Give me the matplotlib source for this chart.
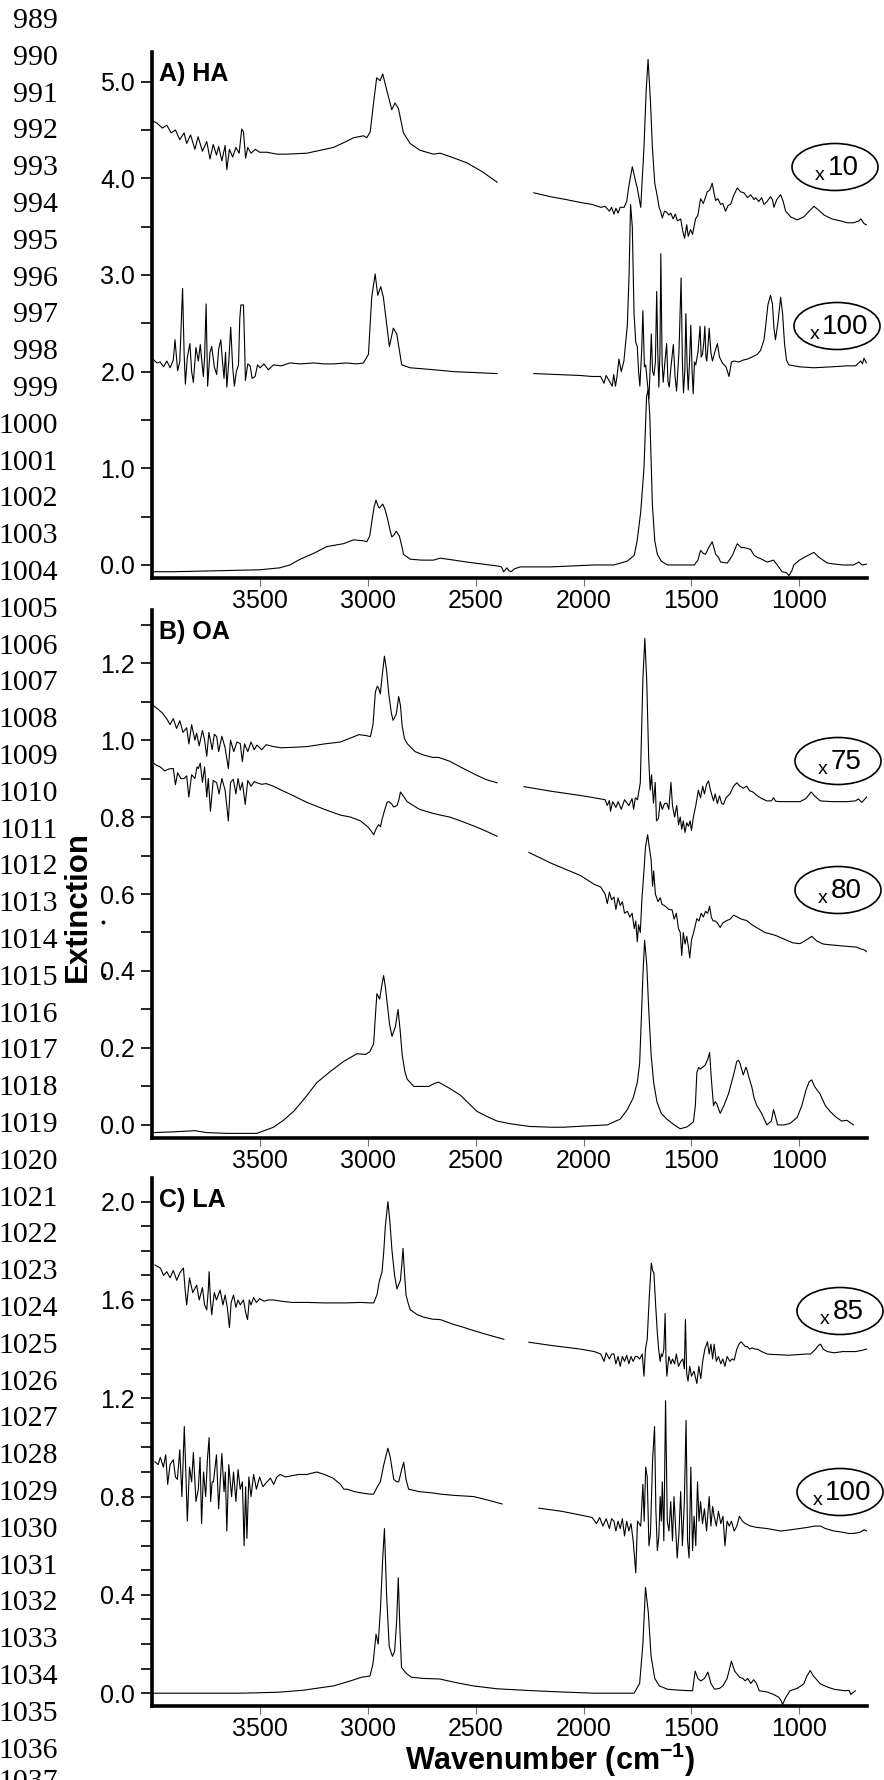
import numpy as np
import matplotlib
matplotlib.use("Agg")
import matplotlib.pyplot as plt
from matplotlib.patches import Ellipse
from matplotlib.lines import Line2D
from matplotlib.ticker import MultipleLocator, FormatStrFormatter

plt.rcParams['font.family'] = ['Liberation Sans', 'DejaVu Sans']
plt.rcParams['mathtext.default'] = 'regular'

# ---------------- data (wavenumber, extinction), None = gap in the spectrum ----------------
# A) HA
ha_x10 = [(4000, 4.60), (3975, 4.57), (3950, 4.52), (3930, 4.55), (3910, 4.47), (3890, 4.50), (3870, 4.40),
          (3850, 4.47), (3838, 4.36), (3820, 4.45), (3800, 4.30), (3785, 4.43), (3765, 4.28), (3745, 4.38),
          (3730, 4.20), (3715, 4.35), (3700, 4.24), (3690, 4.33), (3675, 4.18), (3660, 4.34), (3652, 4.09),
          (3640, 4.30), (3625, 4.22), (3610, 4.32), (3595, 4.26), (3583, 4.51), (3575, 4.48), (3565, 4.21),
          (3555, 4.32), (3540, 4.26), (3520, 4.30), (3500, 4.27), (3467, 4.27), (3420, 4.25), (3374, 4.25),
          (3281, 4.26), (3200, 4.30), (3158, 4.32), (3100, 4.38), (3065, 4.42), (3019, 4.44), (3004, 4.42),
          (2988, 4.48), (2973, 4.77), (2958, 5.04), (2942, 5.01), (2930, 5.08), (2911, 4.91), (2888, 4.71),
          (2873, 4.78), (2857, 4.72), (2834, 4.47), (2803, 4.36), (2757, 4.29), (2695, 4.25), (2664, 4.26),
          (2600, 4.21), (2540, 4.16), (2470, 4.07), (2400, 3.96), None,
          (2230, 3.85), (2153, 3.81), (2080, 3.78), (2014, 3.75), (1960, 3.73), (1920, 3.70), (1900, 3.71),
          (1880, 3.66), (1870, 3.70), (1859, 3.63), (1850, 3.69), (1840, 3.64), (1830, 3.70), (1812, 3.70),
          (1800, 3.76), (1790, 3.92), (1774, 4.12), (1760, 3.98), (1751, 3.90), (1735, 3.70), (1720, 4.32),
          (1710, 4.90), (1701, 5.23), (1690, 4.80), (1681, 4.32), (1670, 3.95), (1658, 3.81), (1650, 3.70),
          (1643, 3.66), (1635, 3.59), (1625, 3.66), (1615, 3.65), (1605, 3.62), (1596, 3.64), (1585, 3.58),
          (1575, 3.63), (1565, 3.56), (1550, 3.58), (1540, 3.45), (1532, 3.38), (1522, 3.52), (1515, 3.40),
          (1504, 3.47), (1495, 3.42), (1481, 3.58), (1470, 3.62), (1458, 3.79), (1445, 3.74), (1427, 3.86),
          (1415, 3.88), (1404, 3.95), (1395, 3.84), (1388, 3.77), (1378, 3.79), (1365, 3.73), (1355, 3.74),
          (1342, 3.66), (1330, 3.72), (1319, 3.73), (1305, 3.82), (1288, 3.90), (1272, 3.86), (1257, 3.85),
          (1240, 3.80), (1226, 3.83), (1210, 3.78), (1203, 3.80), (1188, 3.76), (1175, 3.80), (1164, 3.73),
          (1150, 3.76), (1134, 3.81), (1125, 3.78), (1118, 3.70), (1105, 3.78), (1087, 3.83), (1075, 3.76),
          (1064, 3.66), (1040, 3.60), (1010, 3.57), (980, 3.60), (955, 3.66), (933, 3.71), (910, 3.67),
          (886, 3.62), (850, 3.58), (810, 3.56), (778, 3.54), (750, 3.54), (724, 3.56), (716, 3.58),
          (700, 3.53), (690, 3.52)]

ha_x100 = [(4000, 2.14), (3975, 2.09), (3961, 2.10), (3945, 2.05), (3930, 2.11), (3915, 2.04), (3900, 2.12),
           (3892, 2.33), (3880, 2.01), (3870, 2.10), (3857, 2.86), (3850, 2.20), (3844, 1.87), (3835, 2.15),
           (3823, 2.29), (3815, 2.00), (3807, 1.89), (3795, 2.25), (3784, 2.11), (3775, 2.28), (3761, 1.95),
           (3755, 2.15), (3748, 2.70), (3741, 1.85), (3730, 2.20), (3722, 2.26), (3710, 2.05), (3699, 1.97),
           (3690, 2.23), (3680, 2.33), (3672, 2.10), (3665, 1.93), (3658, 2.20), (3652, 1.84), (3643, 2.10),
           (3634, 2.46), (3625, 2.05), (3617, 1.85), (3608, 2.00), (3598, 2.07), (3592, 2.55), (3587, 2.69),
           (3575, 2.69), (3570, 2.30), (3566, 1.91), (3555, 2.08), (3544, 2.06), (3535, 1.93), (3521, 1.95),
           (3510, 2.07), (3498, 2.04), (3480, 2.08), (3460, 2.02), (3436, 2.07), (3400, 2.06), (3360, 2.09),
           (3312, 2.08), (3250, 2.09), (3200, 2.08), (3158, 2.08), (3100, 2.09), (3050, 2.08), (3019, 2.09),
           (2996, 2.18), (2981, 2.77), (2965, 3.01), (2953, 2.79), (2939, 2.88), (2927, 2.77), (2912, 2.50),
           (2899, 2.26), (2881, 2.45), (2865, 2.39), (2842, 2.07), (2803, 2.04), (2750, 2.03), (2695, 2.02),
           (2600, 2.00), (2500, 1.99), (2400, 1.98), None,
           (2230, 1.98), (2120, 1.97), (2014, 1.96), (1960, 1.95), (1921, 1.95), (1905, 1.88), (1895, 1.96),
           (1880, 1.90), (1867, 1.85), (1860, 1.97), (1852, 1.85), (1845, 1.95), (1836, 2.13), (1825, 2.00),
           (1813, 2.11), (1805, 2.30), (1797, 2.48), (1789, 3.00), (1782, 3.73), (1774, 3.50), (1766, 2.60),
           (1758, 2.30), (1751, 2.26), (1745, 2.00), (1739, 1.85), (1731, 2.20), (1725, 2.63), (1718, 2.05),
           (1712, 2.07), (1705, 1.90), (1697, 1.72), (1692, 2.00), (1686, 2.39), (1680, 2.00), (1674, 1.96),
           (1667, 2.10), (1661, 2.83), (1656, 2.20), (1651, 1.84), (1646, 2.20), (1642, 3.22), (1636, 2.10),
           (1631, 1.89), (1623, 2.10), (1615, 2.29), (1609, 1.90), (1603, 1.84), (1595, 2.05), (1584, 2.28),
           (1576, 1.95), (1569, 1.80), (1558, 2.20), (1548, 2.97), (1542, 2.10), (1537, 1.78), (1531, 2.00),
           (1526, 2.60), (1520, 2.05), (1515, 1.81), (1509, 2.10), (1503, 2.48), (1497, 2.00), (1492, 1.77),
           (1486, 2.10), (1480, 2.07), (1470, 2.20), (1460, 2.47), (1455, 2.15), (1449, 2.18), (1443, 2.30),
           (1438, 2.47), (1433, 2.15), (1429, 2.11), (1424, 2.25), (1418, 2.45), (1410, 2.20), (1403, 2.11),
           (1392, 2.20), (1380, 2.29), (1370, 2.15), (1357, 2.09), (1340, 2.05), (1326, 1.95), (1315, 2.10),
           (1303, 2.11), (1280, 2.10), (1260, 2.12), (1241, 2.13), (1220, 2.15), (1195, 2.18), (1180, 2.22),
           (1164, 2.33), (1155, 2.50), (1146, 2.69), (1134, 2.79), (1125, 2.70), (1118, 2.45), (1111, 2.33),
           (1100, 2.50), (1087, 2.77), (1078, 2.60), (1069, 2.29), (1060, 2.12), (1049, 2.07), (1000, 2.05),
           (933, 2.04), (850, 2.05), (778, 2.06), (740, 2.06), (716, 2.11), (708, 2.08), (701, 2.14), (690, 2.09)]

ha_pure = [(4000, -0.07), (3900, -0.07), (3800, -0.065), (3700, -0.06), (3600, -0.055), (3500, -0.05),
           (3408, -0.03), (3360, 0.0), (3312, 0.06), (3250, 0.12), (3189, 0.19), (3112, 0.22), (3065, 0.26),
           (3019, 0.25), (3004, 0.24), (2990, 0.30), (2981, 0.44), (2970, 0.60), (2961, 0.67), (2950, 0.60),
           (2945, 0.59), (2930, 0.63), (2920, 0.58), (2908, 0.48), (2895, 0.35), (2888, 0.29), (2878, 0.31),
           (2868, 0.35), (2853, 0.30), (2840, 0.18), (2834, 0.11), (2803, 0.06), (2750, 0.05), (2695, 0.05),
           (2664, 0.07), (2600, 0.05), (2540, 0.03), (2470, 0.01), (2400, -0.01), (2380, -0.02), (2370, -0.07),
           (2362, -0.05), (2355, -0.03), (2345, -0.06), (2336, -0.07), (2320, -0.04), (2293, -0.02),
           (2200, -0.02), (2153, -0.02), (2050, -0.01), (1950, 0.0), (1859, 0.0), (1797, 0.04), (1765, 0.10),
           (1751, 0.26), (1735, 0.55), (1720, 1.00), (1708, 1.74), (1701, 1.81), (1693, 1.55), (1681, 0.62),
           (1670, 0.25), (1658, 0.11), (1640, 0.04), (1612, 0.0), (1550, 0.0), (1487, 0.0), (1470, 0.05),
           (1458, 0.15), (1445, 0.12), (1435, 0.11), (1420, 0.18), (1404, 0.24), (1395, 0.17), (1388, 0.11),
           (1375, 0.08), (1365, 0.03), (1334, 0.02), (1310, 0.10), (1288, 0.22), (1270, 0.18), (1257, 0.18),
           (1240, 0.17), (1226, 0.16), (1210, 0.10), (1195, 0.08), (1175, 0.06), (1149, 0.03), (1120, 0.05),
           (1103, 0.0), (1090, -0.04), (1080, -0.07), (1060, -0.08), (1049, -0.11), (1035, -0.06),
           (1026, 0.0), (1000, 0.05), (960, 0.10), (933, 0.13), (910, 0.08), (871, 0.02), (840, 0.01),
           (800, 0.0), (778, 0.0), (750, 0.0), (724, 0.03), (710, 0.0), (685, 0.01)]

# B) OA
oa_x75 = [(4000, 1.093), (3970, 1.08), (3950, 1.07), (3930, 1.055), (3915, 1.04), (3900, 1.056), (3885, 1.03),
          (3870, 1.05), (3855, 1.02), (3838, 1.032), (3828, 0.99), (3815, 1.04), (3800, 1.00), (3792, 1.018),
          (3780, 0.985), (3765, 1.025), (3755, 1.00), (3745, 0.958), (3735, 1.02), (3720, 0.975),
          (3710, 1.015), (3699, 1.009), (3690, 0.97), (3675, 1.01), (3660, 0.98), (3645, 0.926), (3635, 1.00),
          (3620, 0.97), (3605, 0.995), (3590, 0.991), (3580, 0.944), (3570, 0.99), (3555, 0.97),
          (3540, 0.995), (3525, 0.975), (3513, 0.987), (3490, 0.975), (3470, 0.988), (3436, 0.983),
          (3400, 0.98), (3350, 0.981), (3281, 0.983), (3200, 0.99), (3126, 0.995), (3080, 1.005),
          (3041, 1.014), (3010, 1.012), (2987, 1.009), (2975, 1.04), (2964, 1.125), (2955, 1.14),
          (2949, 1.135), (2941, 1.12), (2932, 1.17), (2922, 1.218), (2912, 1.18), (2902, 1.12), (2890, 1.07),
          (2882, 1.051), (2867, 1.068), (2856, 1.113), (2848, 1.09), (2840, 1.037), (2830, 1.005),
          (2817, 0.991), (2780, 0.97), (2740, 0.961), (2700, 0.955), (2671, 0.955), (2620, 0.945),
          (2570, 0.93), (2500, 0.91), (2450, 0.897), (2400, 0.889), None,
          (2276, 0.879), (2150, 0.867), (2014, 0.856), (1950, 0.85), (1900, 0.845), (1890, 0.83),
          (1880, 0.843), (1875, 0.815), (1865, 0.84), (1850, 0.825), (1840, 0.84), (1825, 0.82),
          (1810, 0.845), (1790, 0.83), (1775, 0.848), (1768, 0.82), (1760, 0.85), (1750, 0.845),
          (1737, 0.889), (1725, 1.158), (1716, 1.264), (1707, 1.15), (1698, 0.95), (1691, 0.87), (1685, 0.91),
          (1676, 0.836), (1668, 0.89), (1662, 0.79), (1653, 0.796), (1645, 0.84), (1635, 0.82), (1625, 0.835),
          (1614, 0.836), (1605, 0.82), (1595, 0.89), (1588, 0.83), (1578, 0.80), (1568, 0.83), (1560, 0.78),
          (1552, 0.80), (1545, 0.768), (1538, 0.79), (1530, 0.76), (1522, 0.785), (1514, 0.776),
          (1506, 0.79), (1500, 0.765), (1491, 0.80), (1480, 0.83), (1468, 0.87), (1458, 0.85), (1448, 0.88),
          (1440, 0.86), (1430, 0.885), (1421, 0.894), (1412, 0.87), (1398, 0.842), (1390, 0.86),
          (1380, 0.835), (1370, 0.855), (1360, 0.835), (1352, 0.833), (1340, 0.85), (1321, 0.861),
          (1305, 0.88), (1290, 0.889), (1275, 0.88), (1260, 0.875), (1244, 0.88), (1230, 0.868),
          (1215, 0.865), (1197, 0.856), (1175, 0.848), (1151, 0.842), (1130, 0.842), (1120, 0.85),
          (1110, 0.841), (1089, 0.84), (1050, 0.84), (997, 0.84), (970, 0.848), (946, 0.865), (930, 0.855),
          (904, 0.842), (850, 0.84), (781, 0.84), (740, 0.842), (727, 0.847), (711, 0.838), (700, 0.845),
          (688, 0.852)]

oa_x80 = [(4000, 0.944), (3980, 0.935), (3960, 0.93), (3940, 0.92), (3920, 0.925), (3900, 0.926),
          (3890, 0.884), (3880, 0.915), (3865, 0.90), (3850, 0.90), (3838, 0.907), (3828, 0.852),
          (3815, 0.91), (3800, 0.90), (3790, 0.93), (3784, 0.926), (3775, 0.94), (3765, 0.89), (3755, 0.93),
          (3745, 0.852), (3738, 0.90), (3728, 0.815), (3715, 0.895), (3699, 0.889), (3688, 0.86), (3675, 0.9),
          (3660, 0.87), (3645, 0.79), (3635, 0.89), (3622, 0.898), (3610, 0.86), (3600, 0.90), (3590, 0.87),
          (3580, 0.89), (3567, 0.833), (3555, 0.895), (3540, 0.88), (3525, 0.892), (3513, 0.889),
          (3490, 0.885), (3470, 0.887), (3436, 0.88), (3400, 0.87), (3350, 0.857), (3281, 0.838),
          (3200, 0.82), (3126, 0.805), (3080, 0.80), (3033, 0.79), (3000, 0.775), (2985, 0.765),
          (2972, 0.754), (2960, 0.77), (2949, 0.78), (2940, 0.775), (2933, 0.794), (2920, 0.82),
          (2910, 0.838), (2902, 0.84), (2890, 0.835), (2879, 0.826), (2864, 0.83), (2855, 0.845),
          (2848, 0.865), (2835, 0.855), (2817, 0.84), (2760, 0.82), (2700, 0.81), (2663, 0.805), (2620, 0.80),
          (2570, 0.79), (2500, 0.775), (2450, 0.763), (2400, 0.75), None,
          (2253, 0.708), (2150, 0.68), (2014, 0.648), (1950, 0.625), (1920, 0.618), (1900, 0.60),
          (1890, 0.575), (1880, 0.605), (1870, 0.585), (1859, 0.592), (1850, 0.56), (1840, 0.59),
          (1830, 0.57), (1820, 0.58), (1810, 0.55), (1797, 0.555), (1785, 0.54), (1775, 0.55), (1765, 0.51),
          (1758, 0.53), (1751, 0.476), (1745, 0.52), (1737, 0.50), (1729, 0.592), (1720, 0.66),
          (1713, 0.722), (1703, 0.754), (1695, 0.72), (1687, 0.69), (1680, 0.62), (1675, 0.66), (1667, 0.60),
          (1655, 0.58), (1645, 0.59), (1636, 0.573), (1625, 0.57), (1615, 0.565), (1605, 0.56),
          (1590, 0.559), (1580, 0.535), (1570, 0.55), (1560, 0.51), (1552, 0.50), (1545, 0.44), (1538, 0.50),
          (1530, 0.47), (1522, 0.49), (1514, 0.462), (1508, 0.434), (1500, 0.48), (1490, 0.50),
          (1475, 0.536), (1465, 0.53), (1455, 0.55), (1445, 0.54), (1435, 0.555), (1425, 0.55),
          (1416, 0.568), (1408, 0.54), (1400, 0.53), (1390, 0.53), (1380, 0.525), (1367, 0.513),
          (1355, 0.525), (1340, 0.53), (1320, 0.535), (1305, 0.545), (1290, 0.541), (1270, 0.535),
          (1244, 0.531), (1220, 0.52), (1190, 0.51), (1160, 0.50), (1140, 0.497), (1120, 0.494), (1100, 0.49),
          (1060, 0.48), (1030, 0.473), (997, 0.471), (970, 0.48), (943, 0.49), (920, 0.478), (890, 0.47),
          (858, 0.468), (800, 0.465), (760, 0.463), (734, 0.462), (720, 0.458), (700, 0.455), (688, 0.45)]

oa_pure = [(3993, -0.02), (3900, -0.018), (3800, -0.015), (3745, -0.02), (3650, -0.022), (3513, -0.022),
           (3436, -0.006), (3390, 0.012), (3343, 0.035), (3290, 0.07), (3235, 0.11), (3170, 0.14),
           (3111, 0.165), (3049, 0.185), (3010, 0.183), (2990, 0.19), (2972, 0.211), (2962, 0.30),
           (2957, 0.341), (2944, 0.327), (2935, 0.36), (2926, 0.388), (2918, 0.36), (2910, 0.32),
           (2898, 0.26), (2887, 0.23), (2871, 0.256), (2859, 0.30), (2850, 0.25), (2840, 0.183),
           (2828, 0.14), (2817, 0.119), (2786, 0.10), (2740, 0.10), (2717, 0.10), (2690, 0.108),
           (2671, 0.111), (2620, 0.095), (2570, 0.077), (2530, 0.055), (2493, 0.035), (2440, 0.02),
           (2400, 0.01), (2339, 0.003), (2250, -0.004), (2150, -0.006), (2091, -0.006), (2000, -0.003),
           (1890, 0.0), (1830, 0.015), (1797, 0.04), (1770, 0.07), (1751, 0.11), (1740, 0.16), (1732, 0.28),
           (1724, 0.40), (1717, 0.48), (1707, 0.416), (1698, 0.30), (1687, 0.183), (1675, 0.11), (1660, 0.06),
           (1640, 0.03), (1614, 0.015), (1580, 0.0), (1552, -0.01), (1520, -0.005), (1491, 0.008),
           (1482, 0.05), (1475, 0.136), (1467, 0.15), (1460, 0.145), (1448, 0.15), (1437, 0.155),
           (1425, 0.17), (1416, 0.188), (1408, 0.12), (1398, 0.05), (1390, 0.06), (1383, 0.055),
           (1367, 0.03), (1350, 0.05), (1329, 0.08), (1305, 0.13), (1290, 0.165), (1282, 0.168),
           (1275, 0.16), (1260, 0.13), (1248, 0.15), (1244, 0.145), (1232, 0.12), (1221, 0.10), (1210, 0.07),
           (1197, 0.05), (1175, 0.03), (1151, 0.0), (1130, 0.01), (1120, 0.04), (1110, 0.02), (1101, 0.0),
           (1070, 0.0), (1043, 0.004), (1010, 0.02), (989, 0.05), (970, 0.09), (955, 0.112), (943, 0.117),
           (930, 0.10), (904, 0.08), (880, 0.05), (858, 0.035), (830, 0.02), (804, 0.01), (780, 0.012),
           (750, 0.0)]

# C) LA
la_x85 = [(3985, 1.742), (3960, 1.73), (3945, 1.70), (3930, 1.715), (3915, 1.69), (3900, 1.72), (3884, 1.68),
          (3870, 1.71), (3853, 1.73), (3845, 1.64), (3838, 1.58), (3825, 1.69), (3810, 1.63), (3792, 1.66),
          (3780, 1.60), (3765, 1.65), (3755, 1.58), (3745, 1.56), (3738, 1.64), (3734, 1.715), (3728, 1.60),
          (3722, 1.54), (3710, 1.63), (3700, 1.60), (3683, 1.64), (3670, 1.58), (3660, 1.62), (3650, 1.57),
          (3640, 1.488), (3632, 1.59), (3621, 1.62), (3610, 1.57), (3600, 1.60), (3590, 1.58), (3575, 1.60),
          (3565, 1.55), (3556, 1.52), (3548, 1.60), (3540, 1.58), (3528, 1.61), (3515, 1.59), (3500, 1.605),
          (3480, 1.595), (3460, 1.60), (3436, 1.60), (3400, 1.595), (3350, 1.59), (3281, 1.59),
          (3200, 1.588), (3100, 1.588), (3030, 1.59), (2990, 1.588), (2972, 1.588), (2957, 1.62),
          (2945, 1.68), (2933, 1.715), (2925, 1.80), (2918, 1.898), (2906, 2.00), (2897, 1.92), (2887, 1.80),
          (2875, 1.70), (2864, 1.645), (2848, 1.68), (2842, 1.74), (2836, 1.81), (2830, 1.72), (2822, 1.62),
          (2810, 1.58), (2802, 1.56), (2770, 1.54), (2740, 1.53), (2700, 1.522), (2663, 1.52),
          (2600, 1.50), (2560, 1.49), (2508, 1.475), (2450, 1.46), (2369, 1.44), None,
          (2253, 1.428), (2150, 1.415), (2013, 1.40), (1950, 1.39), (1920, 1.38), (1905, 1.35), (1895, 1.385),
          (1880, 1.36), (1870, 1.38), (1859, 1.38), (1850, 1.34), (1840, 1.37), (1830, 1.33), (1820, 1.37),
          (1810, 1.35), (1800, 1.375), (1790, 1.34), (1780, 1.37), (1770, 1.35), (1760, 1.37), (1751, 1.37),
          (1740, 1.36), (1728, 1.38), (1720, 1.29), (1713, 1.40), (1705, 1.44), (1695, 1.62), (1686, 1.75),
          (1680, 1.72), (1674, 1.71), (1666, 1.58), (1658, 1.465), (1652, 1.40), (1645, 1.35), (1640, 1.38),
          (1635, 1.37), (1628, 1.40), (1622, 1.545), (1618, 1.36), (1614, 1.29), (1605, 1.37), (1595, 1.34),
          (1588, 1.36), (1578, 1.34), (1570, 1.38), (1560, 1.33), (1549, 1.35), (1540, 1.36), (1533, 1.32),
          (1528, 1.52), (1522, 1.30), (1516, 1.27), (1508, 1.33), (1500, 1.29), (1488, 1.31), (1475, 1.26),
          (1466, 1.33), (1457, 1.28), (1448, 1.35), (1438, 1.40), (1426, 1.43), (1418, 1.38), (1410, 1.42),
          (1402, 1.36), (1395, 1.42), (1385, 1.35), (1375, 1.37), (1364, 1.34), (1355, 1.36), (1345, 1.33),
          (1335, 1.37), (1322, 1.35), (1312, 1.36), (1302, 1.355), (1290, 1.40), (1280, 1.42), (1271, 1.43),
          (1260, 1.42), (1250, 1.41), (1241, 1.41), (1230, 1.40), (1220, 1.405), (1205, 1.40), (1195, 1.40),
          (1175, 1.39), (1149, 1.38), (1120, 1.378), (1087, 1.377), (1050, 1.375), (1000, 1.378),
          (970, 1.38), (948, 1.38), (925, 1.40), (912, 1.415), (902, 1.42), (890, 1.40), (871, 1.39),
          (840, 1.385), (800, 1.39), (779, 1.39), (740, 1.39), (710, 1.395), (689, 1.40)]

la_x100 = [(3985, 0.942), (3970, 0.93), (3960, 0.96), (3946, 0.92), (3935, 0.97), (3926, 0.85), (3915, 0.93),
           (3900, 0.95), (3890, 0.88), (3881, 0.87), (3870, 0.99), (3860, 0.80), (3849, 1.085), (3842, 0.90),
           (3835, 0.70), (3825, 0.92), (3815, 0.86), (3807, 0.98), (3795, 0.78), (3784, 0.83), (3776, 0.96),
           (3769, 0.69), (3760, 0.90), (3750, 0.80), (3742, 0.95), (3734, 1.04), (3727, 0.78), (3720, 0.86),
           (3714, 0.86), (3700, 0.97), (3690, 0.75), (3675, 0.975), (3665, 0.82), (3659, 0.90), (3652, 0.66),
           (3643, 0.93), (3630, 0.80), (3621, 0.90), (3610, 0.78), (3600, 0.91), (3590, 0.83), (3580, 0.86),
           (3572, 0.60), (3565, 0.84), (3559, 0.63), (3550, 0.88), (3540, 0.80), (3528, 0.89), (3515, 0.83),
           (3500, 0.88), (3485, 0.84), (3466, 0.86), (3450, 0.875), (3435, 0.85), (3420, 0.88), (3405, 0.89),
           (3380, 0.88), (3350, 0.885), (3320, 0.89), (3281, 0.89), (3260, 0.895), (3235, 0.90), (3200, 0.89),
           (3160, 0.875), (3126, 0.85), (3110, 0.83), (3095, 0.83), (3060, 0.82), (3030, 0.815),
           (2990, 0.81), (2972, 0.81), (2955, 0.84), (2941, 0.86), (2925, 0.93), (2906, 0.997), (2895, 0.96),
           (2879, 0.87), (2865, 0.86), (2856, 0.86), (2845, 0.90), (2833, 0.94), (2822, 0.87), (2810, 0.83),
           (2760, 0.82), (2700, 0.815), (2663, 0.81), (2600, 0.805), (2508, 0.80), (2440, 0.785),
           (2377, 0.77), None,
           (2207, 0.753), (2100, 0.74), (2014, 0.725), (1960, 0.715), (1940, 0.69), (1925, 0.715),
           (1910, 0.68), (1895, 0.71), (1880, 0.67), (1870, 0.71), (1859, 0.70), (1850, 0.66), (1840, 0.70),
           (1830, 0.67), (1820, 0.71), (1810, 0.64), (1800, 0.70), (1790, 0.66), (1780, 0.69), (1770, 0.62),
           (1758, 0.49), (1750, 0.70), (1735, 0.68), (1725, 0.85), (1719, 0.70), (1712, 0.92), (1705, 0.88),
           (1697, 0.60), (1690, 0.65), (1680, 0.95), (1671, 1.085), (1665, 0.75), (1658, 0.58), (1651, 0.64),
           (1645, 0.80), (1640, 0.70), (1635, 0.86), (1628, 0.62), (1620, 1.19), (1612, 0.70), (1604, 0.66),
           (1596, 0.78), (1588, 0.62), (1581, 0.80), (1575, 0.70), (1566, 0.55), (1558, 0.65), (1550, 0.82),
           (1542, 0.60), (1533, 0.78), (1525, 1.11), (1518, 0.62), (1511, 0.55), (1503, 0.92), (1495, 0.58),
           (1488, 0.72), (1480, 0.60), (1472, 0.86), (1465, 0.70), (1458, 0.78), (1449, 0.69), (1440, 0.75),
           (1430, 0.66), (1418, 0.80), (1410, 0.68), (1402, 0.76), (1395, 0.72), (1385, 0.68), (1375, 0.74),
           (1364, 0.69), (1354, 0.72), (1345, 0.60), (1335, 0.70), (1325, 0.68), (1315, 0.70), (1302, 0.66),
           (1290, 0.68), (1278, 0.72), (1264, 0.70), (1250, 0.69), (1226, 0.68), (1200, 0.675),
           (1150, 0.67), (1087, 0.66), (1040, 0.665), (1000, 0.67), (960, 0.675), (930, 0.68), (902, 0.68),
           (880, 0.67), (840, 0.66), (800, 0.655), (772, 0.65), (747, 0.65), (720, 0.655), (700, 0.665),
           (689, 0.66)]

la_pure = [(4000, 0.0), (3800, 0.0), (3600, 0.0), (3500, 0.002), (3414, 0.004), (3300, 0.012),
           (3157, 0.03), (3080, 0.05), (3028, 0.065), (2989, 0.07), (2975, 0.12), (2961, 0.24), (2951, 0.20),
           (2940, 0.35), (2930, 0.55), (2922, 0.67), (2912, 0.40), (2900, 0.19), (2885, 0.15), (2875, 0.17),
           (2865, 0.30), (2858, 0.47), (2850, 0.25), (2843, 0.105), (2820, 0.08), (2797, 0.065), (2740, 0.06),
           (2667, 0.058), (2600, 0.045), (2513, 0.03), (2400, 0.018), (2254, 0.011), (2100, 0.005),
           (1950, 0.0), (1869, 0.0), (1800, 0.0), (1766, 0.0), (1740, 0.04), (1725, 0.20), (1713, 0.43),
           (1700, 0.33), (1687, 0.15), (1670, 0.06), (1649, 0.03), (1610, 0.016), (1550, 0.012),
           (1495, 0.01), (1483, 0.09), (1470, 0.06), (1457, 0.05), (1440, 0.06), (1424, 0.086), (1410, 0.04),
           (1393, 0.016), (1370, 0.02), (1354, 0.03), (1335, 0.06), (1315, 0.13), (1300, 0.09), (1277, 0.065),
           (1262, 0.06), (1251, 0.05), (1240, 0.06), (1225, 0.04), (1212, 0.055), (1199, 0.04),
           (1186, 0.01), (1150, 0.005), (1120, -0.005), (1096, -0.016), (1085, -0.03), (1078, -0.046),
           (1065, -0.02), (1044, 0.01), (1010, 0.02), (980, 0.038), (965, 0.07), (950, 0.092), (935, 0.07),
           (903, 0.038), (870, 0.025), (839, 0.016), (788, 0.01), (770, 0.012), (762, -0.005), (748, 0.005),
           (741, 0.01)]

# multipliers written in the ellipses
ha_factors = ["10", "100"]
oa_factors = ["75", "80"]
la_factors = ["85", "100"]
wn_ticks = [3500, 3000, 2500, 2000, 1500, 1000]
line_numbers = list(range(989, 1038))

# ---------------- layout (pixel positions in the 884 x 1780 picture) ----------------
W, H = 884, 1780
fig = plt.figure(figsize=(W / 100, H / 100), dpi=100)


def fx(x):
    return x / W


def fy(y):
    return 1 - y / H


def to_xy(trace):
    wn = np.array([np.nan if p is None else p[0] for p in trace], dtype=float)
    val = np.array([np.nan if p is None else p[1] for p in trace], dtype=float)
    return wn, val


panels = [
    # (top, bottom px, ylim, major, minor, title, traces, factors, ellipse centres)
    (51.7, 578.3, (-0.138, 5.31), 1.0, 0.5, "A) HA", [ha_x10, ha_x100, ha_pure], ha_factors, [(835, 167), (837, 326)]),
    (609.6, 1138.0, (-0.034, 1.339), 0.2, 0.1, "B) OA", [oa_x75, oa_x80, oa_pure], oa_factors, [(838, 761), (838, 890)]),
    (1178.3, 1706.0, (-0.052, 2.095), 0.4, 0.1, "C) LA", [la_x85, la_x100, la_pure], la_factors, [(840, 1311), (840, 1492)]),
]

left_px, right_px = 151.7, 867.0

for top, bottom, ylim, major, minor, title, traces, factors, centres in panels:
    ax = fig.add_axes([fx(left_px), fy(bottom), (right_px - left_px) / W, (bottom - top) / H])
    for tr in traces:
        wn, val = to_xy(tr)
        ax.plot(wn, val, color='black', lw=0.8)
    ax.set_xlim(4000, 687)
    ax.set_ylim(*ylim)
    ax.set_xticks(wn_ticks)
    ax.yaxis.set_major_locator(MultipleLocator(major))
    ax.yaxis.set_minor_locator(MultipleLocator(minor))
    ax.yaxis.set_major_formatter(FormatStrFormatter('%.1f'))
    for s in ['top', 'right']:
        ax.spines[s].set_visible(False)
    for s in ['left', 'bottom']:
        ax.spines[s].set_linewidth(2.6)
    ax.tick_params(axis='y', which='both', direction='out', length=8, width=1.2,
                   labelsize=18, pad=4)
    ax.tick_params(axis='x', which='both', direction='out', length=6, width=0.8,
                   color='0.45', labelsize=18, pad=2)

    # panel title
    fig.text(fx(159), fy(top + 29), title, ha='left', va='baseline', fontsize=18, weight='bold')

    # scale-factor ellipses
    for fac, (cx, cy) in zip(factors, centres):
        fig.add_artist(Ellipse((fx(cx), fy(cy)), 86 / W, 47 / H, transform=fig.transFigure,
                               fill=False, ec='black', lw=1.2))
        num_w = 15.4 * len(fac)
        group = 9 + 3 + num_w
        x0 = cx - group / 2 + 2
        fig.text(fx(x0 + 4.5), fy(cy + 13), "x", ha='center', va='baseline', fontsize=14)
        fig.text(fx(x0 + 12), fy(cy + 8), fac, ha='left', va='baseline', fontsize=20)

# y label and x label
fig.text(fx(78), fy(906), "Extinction", rotation=90, ha='center', va='center',
         fontsize=22.5, weight='bold')
fig.text(fx(550), fy(1770), "Wavenumber (cm$^{-1}$)", ha='center', va='baseline',
         fontsize=22, weight='bold')

# two small stray marks next to the y label
for (mx, my) in [(103, 922), (104, 975)]:
    fig.add_artist(Line2D([fx(mx)], [fy(my)], marker='o', ms=1.8, color='black',
                          transform=fig.transFigure))

# manuscript line numbers down the left margin; the last one runs off the page bottom
# as it does in the scanned manuscript
for n in line_numbers:
    yb = 18 + (n - 989) * 36.8 + 10
    if n == line_numbers[-1]:
        yb = 1789
    fig.text(fx(58), fy(yb), str(n), ha='right', va='baseline', fontsize=21.5,
             family='Liberation Serif')

fig.savefig("out.png", dpi=100)
